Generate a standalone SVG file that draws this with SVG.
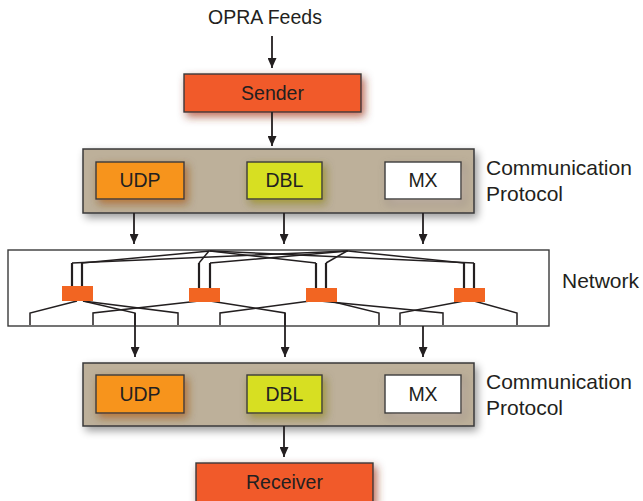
<svg xmlns="http://www.w3.org/2000/svg" width="643" height="501" viewBox="0 0 643 501">
  <style>
    text { font-family: "Liberation Sans", Arial, sans-serif; fill: #231f20; }
    .lbl { font-size: 19.5px; text-anchor: middle; }
    .side { font-size: 21px; }
    .edge { stroke: #231f20; stroke-width: 1.8; fill: none; }
    .net { stroke: #231f20; stroke-width: 1.5; fill: none; }
    .up { stroke: #231f20; stroke-width: 2.2; fill: none; }
    .box { stroke: #3a3a3a; stroke-width: 1.4; }
    .panel { fill: #bdb09a; stroke: #3a3a3a; stroke-width: 1.5; }
    .switch { fill: #f26522; }
  </style>
  <defs>
    <marker id="head" viewBox="0 0 10 9" refX="10" refY="4.5" markerWidth="10" markerHeight="9" markerUnits="userSpaceOnUse" orient="auto">
      <path d="M0,0 L10,4.5 L0,9 z" fill="#231f20"/>
    </marker>
    <filter id="glow" x="-40%" y="-60%" width="180%" height="220%">
      <feGaussianBlur in="SourceGraphic" stdDeviation="4.5" result="b"/>
      <feOffset in="b" dx="3" dy="4" result="o"/>
      <feColorMatrix in="o" type="matrix" values="0.55 0 0 0 0  0 0.45 0 0 0  0 0 0.4 0 0  0 0 0 0.75 0" result="s"/>
      <feMerge><feMergeNode in="s"/><feMergeNode in="SourceGraphic"/></feMerge>
    </filter>
    <filter id="panelShadow" x="-10%" y="-30%" width="120%" height="170%">
      <feGaussianBlur in="SourceAlpha" stdDeviation="4" result="b"/>
      <feOffset in="b" dx="3" dy="4" result="o"/>
      <feComponentTransfer in="o" result="s"><feFuncA type="linear" slope="0.4"/></feComponentTransfer>
      <feMerge><feMergeNode in="s"/><feMergeNode in="SourceGraphic"/></feMerge>
    </filter>
  </defs>

  <!-- source label -->
  <g id="opra">
    <text x="265" y="24" class="lbl">OPRA Feeds</text>
  </g>

  <g id="sender">
    <rect x="184" y="74" width="177" height="38" fill="#f15a29" class="box" filter="url(#glow)"/>
    <text x="272.5" y="99.5" class="lbl">Sender</text>
  </g>

  <!-- upper protocol layer -->
  <g id="protocol-top">
    <rect x="83" y="149" width="391" height="64" class="panel" filter="url(#panelShadow)"/>
    <g id="udp-top">
      <rect x="96" y="162" width="88" height="37" fill="#f7941d" class="box" filter="url(#glow)"/>
      <text x="140" y="187" class="lbl">UDP</text>
    </g>
    <g id="dbl-top">
      <rect x="247" y="162" width="75" height="37" fill="#d7df23" class="box" filter="url(#glow)"/>
      <text x="284.5" y="187" class="lbl">DBL</text>
    </g>
    <g id="mx-top">
      <rect x="385" y="162" width="76" height="37" fill="#ffffff" class="box" filter="url(#glow)"/>
      <text x="423" y="187" class="lbl">MX</text>
    </g>
    <text x="486" y="175" class="side">Communication</text>
    <text x="486" y="200.5" class="side">Protocol</text>
  </g>

  <!-- switching fabric -->
  <g id="network">
    <rect x="8" y="250" width="541" height="76" fill="#ffffff" stroke="#3a3a3a" stroke-width="1.4"/>
    <!-- uplinks to the two top hubs -->
    <polyline class="up" points="72,286 72,263"/>
    <polyline class="up" points="82,286 82,263"/>
    <polyline class="net" points="72,263 348,251"/>
    <polyline class="net" points="82,263 210,251"/>
    <polyline class="up" points="199,288 199,263"/>
    <polyline class="net" points="199,263 209,251"/>
    <polyline class="up" points="210,288 210,263"/>
    <polyline class="net" points="210,263 348,251"/>
    <polyline class="up" points="316,288 316,263"/>
    <polyline class="net" points="316,263 210,251"/>
    <polyline class="up" points="326,288 326,263"/>
    <polyline class="net" points="326,263 347,251"/>
    <polyline class="up" points="464,288 464,263"/>
    <polyline class="net" points="464,263 348,251"/>
    <polyline class="up" points="474,288 474,263"/>
    <polyline class="net" points="474,263 210,251"/>

    <!-- downlinks to the leaves -->
    <polyline class="net" points="77,301 30,313 30,325"/>
    <polyline class="net" points="83,301 135,313 135,325"/>
    <polyline class="net" points="83,301 178,313 178,325"/>
    <polyline class="net" points="199,301 93,313 93,325"/>
    <polyline class="net" points="210,301 285,313 285,325"/>
    <polyline class="net" points="310,301 220,313 220,325"/>
    <polyline class="net" points="320,301 443,313 443,325"/>
    <polyline class="net" points="330,301 379,313 379,325"/>
    <polyline class="net" points="464,301 400,313 400,325"/>
    <polyline class="net" points="474,301 517,313 517,325"/>

    <g id="switch-1"><rect x="62" y="286" width="31" height="15" class="switch"/></g>
    <g id="switch-2"><rect x="189" y="288" width="31" height="14" class="switch"/></g>
    <g id="switch-3"><rect x="306" y="288" width="31" height="14" class="switch"/></g>
    <g id="switch-4"><rect x="454" y="288" width="31" height="14" class="switch"/></g>
    <text x="562" y="287.5" class="side">Network</text>
  </g>

  <!-- lower protocol layer -->
  <g id="protocol-bottom">
    <rect x="83" y="363" width="391" height="63" class="panel" filter="url(#panelShadow)"/>
    <g id="udp-bottom">
      <rect x="96" y="375" width="88" height="38" fill="#f7941d" class="box" filter="url(#glow)"/>
      <text x="140" y="401" class="lbl">UDP</text>
    </g>
    <g id="dbl-bottom">
      <rect x="247" y="375" width="75" height="38" fill="#d7df23" class="box" filter="url(#glow)"/>
      <text x="284.5" y="401" class="lbl">DBL</text>
    </g>
    <g id="mx-bottom">
      <rect x="385" y="375" width="76" height="38" fill="#ffffff" class="box" filter="url(#glow)"/>
      <text x="423" y="401" class="lbl">MX</text>
    </g>
    <text x="486" y="388.5" class="side">Communication</text>
    <text x="486" y="415" class="side">Protocol</text>
  </g>

  <g id="receiver">
    <rect x="196" y="463" width="177" height="40" fill="#f15a29" class="box" filter="url(#glow)"/>
    <text x="284.5" y="488.5" class="lbl">Receiver</text>
  </g>

  <!-- connectors -->
  <g id="connectors">
    <line class="edge" x1="272" y1="36" x2="272" y2="68" marker-end="url(#head)"/>
    <line class="edge" x1="272" y1="112" x2="272" y2="146" marker-end="url(#head)"/>
    <line class="edge" x1="134" y1="213" x2="134" y2="244" marker-end="url(#head)"/>
    <line class="edge" x1="284" y1="213" x2="284" y2="244" marker-end="url(#head)"/>
    <line class="edge" x1="423" y1="213" x2="423" y2="244" marker-end="url(#head)"/>
    <line class="edge" x1="135" y1="313" x2="135" y2="357" marker-end="url(#head)"/>
    <line class="edge" x1="285" y1="313" x2="285" y2="357" marker-end="url(#head)"/>
    <line class="edge" x1="423" y1="326" x2="423" y2="357" marker-end="url(#head)"/>
    <line class="edge" x1="284" y1="426" x2="284" y2="457" marker-end="url(#head)"/>
  </g>
</svg>
